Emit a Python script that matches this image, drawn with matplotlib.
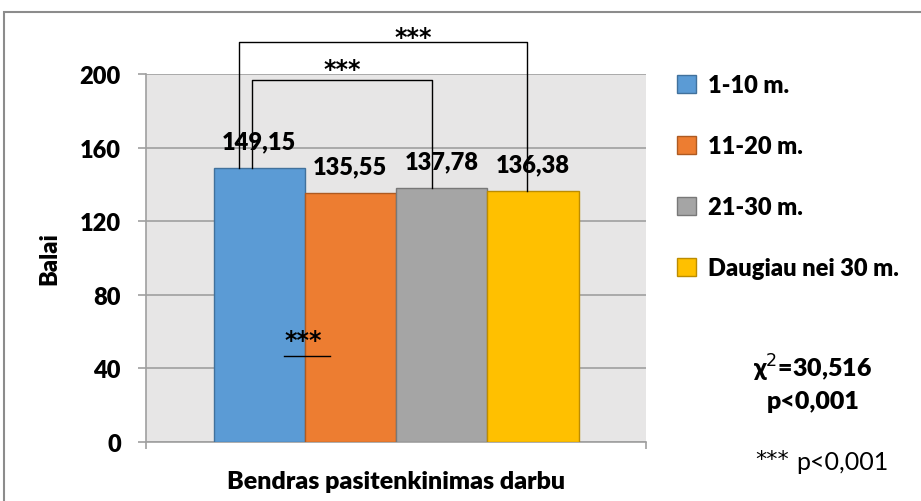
import numpy as np
import matplotlib
matplotlib.use('Agg')
import matplotlib.pyplot as plt
from matplotlib.patches import Rectangle

plt.rcParams['font.family'] = ['Lato', 'DejaVu Sans']

# Data
groups = ['1-10 m.', '11-20 m.', '21-30 m.', 'Daugiau nei 30 m.']
values = [149.15, 135.55, 137.78, 136.38]
value_labels = ['149,15', '135,55', '137,78', '136,38']
colors = ['#5B9BD5', '#ED7D31', '#A5A5A5', '#FFC000']
edges = ['#41719C', '#AE5A21', '#787878', '#BC8C00']
y_ticks = [0, 40, 80, 120, 160, 200]

STAR_FONT = ['DejaVu Sans']

fig = plt.figure(figsize=(9.21, 5.02), dpi=100)
ax = fig.add_axes([146 / 921, 59 / 502, 500 / 921, 368 / 502])

# Bars placed side by side around the single category
width = 0.365
pos = (np.arange(len(values)) - (len(values) - 1) / 2) * width
for p, v, c, e, g in zip(pos, values, colors, edges, groups):
    ax.bar(p, v, width=width, color=c, edgecolor=e, linewidth=1, label=g, zorder=3)

for p, v, t in zip(pos, values, value_labels):
    ax.text(p, v, t, ha='center', va='center', fontsize=17, weight='heavy',
            zorder=5, transform=ax.transData).set_position((p, v + 14.5))

ax.set_xlim(-1, 1)
ax.set_ylim(0, 200)
ax.set_yticks(y_ticks)
ax.set_xticks([-1, 1])
ax.set_xticklabels(['', ''])
ax.set_facecolor('#E7E6E6')
ax.grid(axis='y', color='#A0A0A0', linewidth=1.2, zorder=0)
for s in ['top', 'right']:
    ax.spines[s].set_visible(False)
for s in ['left', 'bottom']:
    ax.spines[s].set_color('#A0A0A0')
    ax.spines[s].set_linewidth(1.2)
ax.tick_params(axis='y', length=6, width=1.2, color='#A0A0A0', pad=12,
               labelsize=17)
ax.tick_params(axis='x', length=5, width=1.2, color='#A0A0A0')
for lab in ax.get_yticklabels():
    lab.set_fontweight('heavy')

ax.set_ylabel('Balai', fontsize=17, fontweight='heavy', labelpad=14)
ax.set_xlabel('Bendras pasitenkinimas darbu', fontsize=18, fontweight='heavy',
              labelpad=12)

# Significance brackets
def bracket(x1, x2, y1, y2, top, star_y, star_x):
    ax.plot([x1, x1, x2, x2], [y1, top, top, y2], color='black', lw=1,
            clip_on=False, zorder=6)
    ax.text(star_x, star_y, '***', ha='center', va='center', fontsize=17,
            fontweight='bold', family=STAR_FONT, clip_on=False)

bracket(pos[0] - 0.08, pos[3] - 0.024, values[0], values[3], 217.4, 220.0, 0.068)
bracket(pos[0] - 0.03, pos[2] - 0.04, values[0], values[2], 196.7, 202.8, -0.216)

# *** with underline inside first two bars
ax.text(-0.372, 55.5, '***', ha='center', va='center', fontsize=17,
        fontweight='bold', family=STAR_FONT, zorder=6)
ax.plot([-0.448, -0.264], [46.5, 46.5], color='black', lw=1, zorder=6)

# Legend
leg = fig.legend(loc='upper left', bbox_to_anchor=(668 / 921, 1 - 66 / 502),
                 frameon=False, fontsize=17, handlelength=0.8, handleheight=0.8,
                 handletextpad=0.5, labelspacing=1.65, borderaxespad=0)
for t in leg.get_texts():
    t.set_fontweight('heavy')

# Test statistics
fig.text(813 / 921, 1 - 368 / 502, 'χ$^2$=30,516', ha='center', va='center',
         fontsize=18, fontweight='heavy')
fig.text(813 / 921, 1 - 402 / 502, 'p<0,001', ha='center', va='center',
         fontsize=18, fontweight='heavy')
fig.text(789 / 921, 1 - 460 / 502, '***', ha='right', va='center',
         fontsize=16, family=STAR_FONT)
fig.text(796 / 921, 1 - 463 / 502, 'p<0,001', ha='left', va='center',
         fontsize=18)

# Outer chart frame
fig.patches.append(Rectangle((4 / 921, -0.05), 1.1, 1 - 13 / 502 + 0.05,
                             transform=fig.transFigure, fill=False,
                             edgecolor='#8C8C8C', linewidth=1.5))

fig.savefig('out.png', dpi=100)
